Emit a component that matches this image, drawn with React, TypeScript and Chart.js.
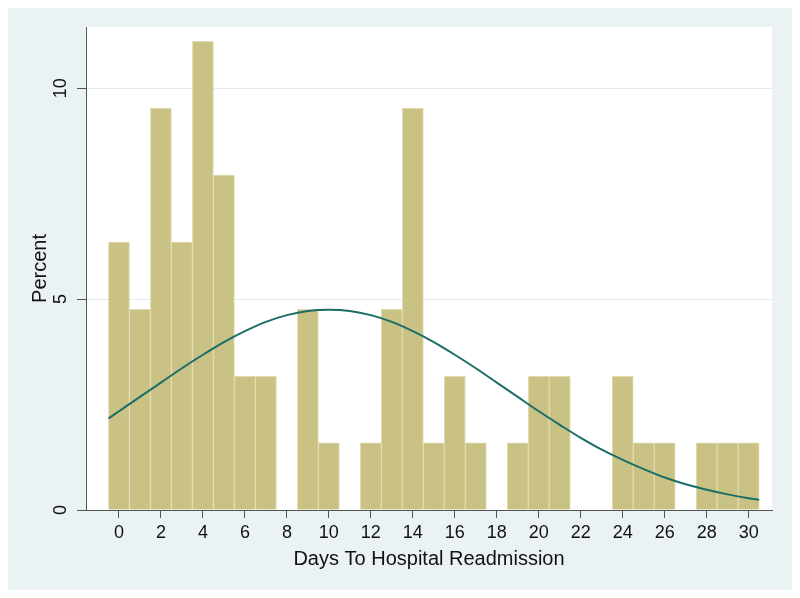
import React, { useEffect, useRef } from "react";
import { Chart, registerables } from "chart.js";

Chart.register(...registerables);

// Days to readmission (bin centres) and percent of cases per bin
const days = [0, 1, 2, 3, 4, 5, 6, 7, 8, 9, 10, 11, 12, 13, 14, 15, 16, 17, 18, 19, 20, 21, 22, 23, 24, 25, 26, 27, 28, 29, 30];
const percents = [6.35, 4.76, 9.52, 6.35, 11.11, 7.94, 3.17, 3.17, 0, 4.76, 1.59, 0, 1.59, 4.76, 9.52, 1.59, 3.17, 1.59, 0, 1.59, 3.17, 3.17, 0, 0, 3.17, 1.59, 1.59, 0, 1.59, 1.59, 1.59];

// Normal density overlay
const curveX = [-0.5, 0, 1, 2, 3, 4, 5, 6, 7, 8, 9, 10, 11, 12, 13, 14, 15, 16, 17, 18, 19, 20, 21, 22, 23, 24, 25, 26, 27, 28, 29, 30, 30.5];
const curveY = [2.17, 2.34, 2.68, 3.02, 3.36, 3.68, 3.98, 4.24, 4.46, 4.62, 4.72, 4.75, 4.72, 4.62, 4.46, 4.24, 3.98, 3.68, 3.36, 3.02, 2.68, 2.34, 2.02, 1.71, 1.43, 1.19, 0.97, 0.77, 0.61, 0.48, 0.37, 0.28, 0.24];

const xTicks = [0, 2, 4, 6, 8, 10, 12, 14, 16, 18, 20, 22, 24, 26, 28, 30];
const yTicks = [0, 5, 10];

const FONT = "'Liberation Sans', Arial, Helvetica, sans-serif";

const bgPlugin = {
  id: "bgPlugin",
  beforeDraw(chart: any) {
    const { ctx, chartArea, width, height } = chart;
    ctx.save();
    ctx.fillStyle = "#eaf2f3";
    ctx.fillRect(0, 0, width, height);
    ctx.fillStyle = "#ffffff";
    ctx.fillRect(chartArea.left, chartArea.top, chartArea.right - chartArea.left, chartArea.bottom - chartArea.top);
    ctx.restore();
  },
  afterDraw(chart: any) {
    const { ctx } = chart;
    const y = chart.scales.y;
    ctx.save();
    ctx.fillStyle = "#111111";
    ctx.font = `18px ${FONT}`;
    ctx.textAlign = "center";
    ctx.textBaseline = "middle";
    for (const v of yTicks) {
      const py = y.getPixelForValue(v);
      ctx.save();
      ctx.translate(53, py);
      ctx.rotate(-Math.PI / 2);
      ctx.fillText(String(v), 0, 0);
      ctx.restore();
    }
    ctx.restore();
  },
};

export default function App() {
  const ref = useRef<HTMLCanvasElement | null>(null);
  useEffect(() => {
    if (!ref.current) return;
    const chart = new Chart(ref.current, {
      type: "bar",
      data: {
        datasets: [
          {
            type: "line",
            data: curveX.map((x, i) => ({ x, y: curveY[i] })),
            borderColor: "#1b6d67",
            borderWidth: 2,
            pointRadius: 0,
            cubicInterpolationMode: "monotone",
            fill: false,
            order: 0,
          } as any,
          {
            type: "bar",
            data: days.map((d, i) => ({ x: d, y: percents[i] })),
            backgroundColor: "#c9c284",
            borderColor: "#e0dbb0",
            borderWidth: 1,
            barPercentage: 1,
            categoryPercentage: 1,
            order: 1,
          } as any,
        ],
      },
      options: {
        animation: false,
        responsive: false,
        maintainAspectRatio: false,
        layout: { padding: { top: 19, right: 20, left: 0, bottom: 0 } },
        plugins: { legend: { display: false }, tooltip: { enabled: false } },
        scales: {
          x: {
            type: "linear",
            min: -1.57,
            max: 31.11,
            offset: false,
            afterBuildTicks: (scale: any) => {
              scale.ticks = xTicks.map((v) => ({ value: v }));
            },
            afterFit: (scale: any) => {
              scale.height = 80;
            },
            grid: { offset: false, drawOnChartArea: false, drawTicks: true, tickLength: 8, color: "#555555", tickColor: "#555555" },
            border: { color: "#555555", width: 1 },
            ticks: { color: "#111111", font: { family: FONT, size: 18 }, padding: 4, maxRotation: 0, minRotation: 0, autoSkip: false },
            title: {
              display: true,
              text: "Days To Hospital Readmission",
              color: "#111111",
              font: { family: FONT, size: 20 },
              padding: { top: 0, bottom: 19 },
            },
          },
          y: {
            type: "linear",
            min: 0,
            max: 11.45,
            afterBuildTicks: (scale: any) => {
              scale.ticks = yTicks.map((v) => ({ value: v }));
            },
            afterFit: (scale: any) => {
              scale.width = 78;
            },
            grid: { color: "#e1eced", tickColor: "#555555", drawTicks: true, tickLength: 9 },
            border: { color: "#555555", width: 1 },
            ticks: { display: false },
            title: {
              display: true,
              text: "Percent",
              color: "#111111",
              font: { family: FONT, size: 20 },
              padding: { top: 20, bottom: 0 },
            },
          },
        },
      },
      plugins: [bgPlugin],
    });
    return () => chart.destroy();
  }, []);
  return <canvas ref={ref} width={784} height={582} style={{ display: "block" }} />;
}
